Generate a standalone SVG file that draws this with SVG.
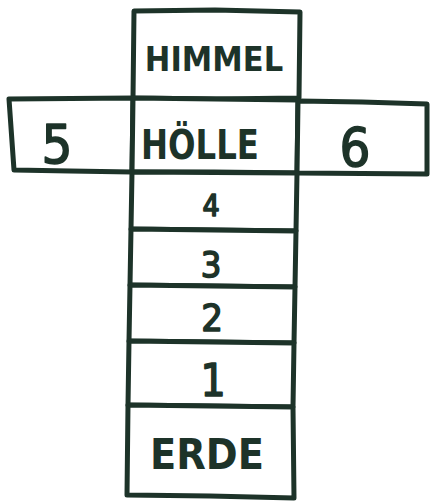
<svg xmlns="http://www.w3.org/2000/svg" width="435" height="504" viewBox="0 0 435 504">
<style>
.c{fill:#ffffff;stroke:#1d3329;stroke-width:5;stroke-linejoin:round;stroke-linecap:round}
.t{fill:#1d3329;font-family:"DejaVu Sans Condensed","DejaVu Sans",sans-serif;font-weight:bold;text-anchor:middle}
.n{font-weight:normal;stroke:#1d3329;stroke-width:1.5;stroke-linejoin:round}
</style>
<rect width="435" height="504" fill="#ffffff"/>
<g id="himmel">
<path class="c" d="M134,11 L215,10 L300,12 L299,98 L216,99 L133,98 Z"/>
<text class="t" x="214" y="71" font-size="34">HIMMEL</text>
</g>
<g id="feld5">
<path class="c" d="M9,99 L133,98 L132,172 L70,171 L14,170 Z"/>
<text class="t n" x="57" y="163" font-size="54">5</text>
</g>
<g id="hoelle">
<path class="c" d="M133,98 L216,99 L298,100 L297,173 L214,172 L132,172 Z"/>
<text class="t" x="200" y="159" font-size="40" textLength="118" lengthAdjust="spacingAndGlyphs">HÖLLE</text>
</g>
<g id="feld6">
<path class="c" d="M298,101 L362,102 L427,104 L427,174 L297,173 Z"/>
<text class="t n" x="355" y="166" font-size="54">6</text>
</g>
<g id="feld4">
<path class="c" d="M132,172 L297,173 L296,231 L131,229 Z"/>
<text class="t n" x="211" y="216" font-size="30">4</text>
</g>
<g id="feld3">
<path class="c" d="M131,229 L296,231 L295,287 L130,285 Z"/>
<text class="t n" x="211" y="277" font-size="36">3</text>
</g>
<g id="feld2">
<path class="c" d="M130,285 L295,287 L294,343 L129,341 Z"/>
<text class="t n" x="212" y="331" font-size="38">2</text>
</g>
<g id="feld1">
<path class="c" d="M129,341 L294,343 L293,407 L128,405 Z"/>
<text class="t n" x="213" y="396" font-size="44">1</text>
</g>
<g id="erde">
<path class="c" d="M128,405 L293,407 L294,498 L210,496 L127,495 Z"/>
<text class="t" x="207" y="469" font-size="42" textLength="114" lengthAdjust="spacingAndGlyphs">ERDE</text>
</g>
<g id="connectors"></g>
</svg>
